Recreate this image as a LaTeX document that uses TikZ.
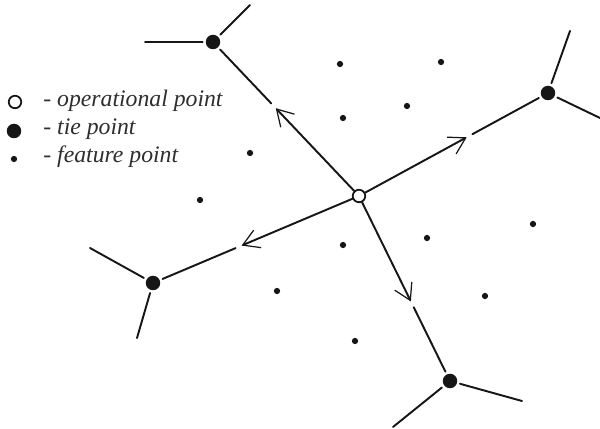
\documentclass[tikz,border=0pt]{standalone}
\usepackage{fontspec}
\setmainfont{Liberation Serif}
\usetikzlibrary{arrows.meta,calc,positioning}
\definecolor{ink}{HTML}{161616}
\definecolor{legink}{HTML}{2E2E2E}
\tikzset{
  opnode/.style={circle,draw=ink,fill=white,line width=1pt,
                 minimum size=0.25cm,inner sep=0pt},
  tienode/.style={circle,fill=ink,minimum size=0.29cm,inner sep=0pt,
                  outer sep=1.8pt},
  featnode/.style={circle,fill=ink,minimum size=0.125cm,inner sep=0pt},
  link/.style={line width=1.1pt,draw=ink},
  motion/.style={link,-{Straight Barb[length=3.2mm,width=3.8mm,line width=0.7pt]}},
  legtext/.style={font=\fontsize{13.5}{16}\selectfont\itshape,text=legink,
                  inner sep=0pt,anchor=base west}
}

\begin{document}
\begin{tikzpicture}[x=0.02cm,y=-0.02cm,line cap=round]
  \useasboundingbox (0,0) rectangle (600,429);

  % Legend
  \node[opnode] (legop) at (15,102) {};
  \node[tienode] (legtie) at (14,131) {};
  \node[featnode] (legfeat) at (14,159) {};
  \node[legtext] (legoptext) at (43,107) {- operational point};
  \node[legtext] (legtietext) at (43,135) {- tie point};
  \node[legtext] (legfeattext) at (43,163) {- feature point};

  % Feature points
  \foreach \p [count=\i] in {(340,64),(441,62),(343,118),(407,106),
      (250,153),(200,200),(343,245),(427,238),(533,224),(277,291),
      (485,296),(355,341)}
    \node[featnode] (f\i) at \p {};

  % Operational point and tie points
  \node[opnode] (op) at (359,196) {};
  \node[tienode] (t1) at (213,42) {};
  \node[tienode] (t2) at (548,93) {};
  \node[tienode] (t3) at (153,283) {};
  \node[tienode] (t4) at (450,381) {};

  % Free ends of the tie point branches
  \coordinate (a1) at (145,42);  \coordinate (b1) at (250,5);
  \coordinate (a2) at (570,31);  \coordinate (b2) at (600,118);
  \coordinate (a3) at (90,248);  \coordinate (b3) at (137,338);
  \coordinate (a4) at (393,427); \coordinate (b4) at (522,401);

  \foreach \t in {1,...,4}
    \draw[link] (a\t) -- (t\t) -- (b\t);

  % Motion from the operational point
  \foreach \t in {1,...,4} {
    \coordinate (m\t) at ($(op)!0.57!(t\t)$);
    \draw[motion] (op) -- (m\t);
    \draw[link] ($(m\t)!0.13cm!(t\t)$) -- (t\t);
  }
\end{tikzpicture}
\end{document}
